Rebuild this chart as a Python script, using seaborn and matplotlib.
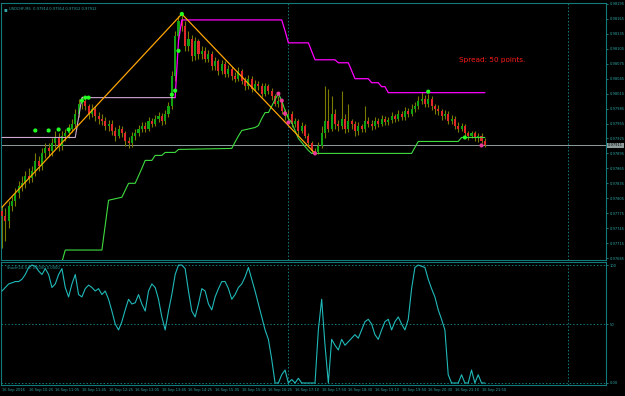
import numpy as np
import pandas as pd
import matplotlib
matplotlib.use("Agg")
import matplotlib.pyplot as plt
import matplotlib.transforms as mtransforms
import seaborn as sns

# ---------------- data (prices in points above 0.97000) ----------------
BASE = 0.97
opens = [780, 770, 760, 790, 800, 815, 830, 835, 850, 845,
         860, 880, 870, 895, 905, 900, 915, 925, 910, 930,
         935, 945, 955, 975, 995, 1000, 990, 975, 985, 970,
         965, 960, 950, 955, 940, 930, 945, 935, 920, 915,
         930, 935, 945, 950, 945, 960, 955, 965, 970, 960,
         975, 990, 1050, 1130,
         1160, 1150, 1110, 1125, 1090, 1120,
         1095, 1100, 1085, 1095, 1070, 1080, 1060, 1075, 1055, 1065,
         1050, 1045, 1060, 1040, 1030, 1045, 1025, 1035, 1030, 1015,
         1030, 1020, 1010, 995, 1000, 980, 970, 975, 955, 960,
         940, 950, 930, 915, 900, 898, 910,
         935, 960, 945, 975, 955, 950, 965, 945, 960, 955, 940, 950, 945,
         960, 955, 950, 960, 955, 965, 958, 962, 970, 965, 975, 968, 980, 975, 985,
         990, 1000, 1005, 995, 1005, 990,
         985, 980, 970, 975, 960, 965, 950, 945, 950, 935, 930, 935, 925, 930, 920]
closes = [770, 760, 790, 800, 815, 830, 835, 850, 845, 860,
          880, 870, 895, 905, 900, 915, 925, 910, 930, 935,
          945, 955, 975, 995, 1000, 990, 975, 985, 970, 965,
          960, 950, 955, 940, 930, 945, 935, 920, 915, 930,
          935, 945, 950, 945, 960, 955, 965, 970, 960, 975,
          990, 1050, 1130, 1160,
          1150, 1110, 1125, 1090, 1120, 1095,
          1100, 1085, 1095, 1070, 1080, 1060, 1075, 1055, 1065, 1050,
          1045, 1060, 1040, 1030, 1045, 1025, 1035, 1030, 1015, 1030,
          1020, 1010, 995, 1000, 980, 970, 975, 955, 960, 940,
          950, 930, 915, 900, 898, 910, 935,
          960, 945, 975, 955, 950, 965, 945, 960, 955, 940, 950, 945, 960,
          955, 950, 960, 955, 965, 958, 962, 970, 965, 975, 968, 980, 975, 985, 990,
          1000, 1005, 995, 1005, 990, 985,
          980, 970, 975, 960, 965, 950, 945, 950, 935, 930, 935, 925, 930, 920, 911]
highs = [790, 785, 800, 810, 825, 840, 850, 860, 865, 870,
         895, 890, 905, 915, 915, 925, 940, 935, 940, 945,
         955, 965, 985, 1005, 1010, 1008, 995, 995, 990, 978,
         975, 968, 962, 962, 948, 952, 950, 940, 928, 938,
         945, 952, 958, 958, 968, 966, 972, 978, 976, 982,
         998, 1060, 1140, 1170,
         1178, 1160, 1140, 1132, 1128, 1125,
         1110, 1108, 1102, 1100, 1088, 1085, 1082, 1080, 1072, 1070,
         1058, 1068, 1065, 1048, 1052, 1050, 1042, 1040, 1036, 1036,
         1035, 1026, 1015, 1010, 1005, 985, 982, 980, 966, 965,
         958, 955, 935, 920, 906, 918, 950,
         1030, 1025, 1010, 985, 962, 1020, 975, 995, 965, 960, 958, 955, 990,
         968, 962, 968, 966, 972, 970, 968, 978, 975, 982, 980, 988, 986, 995, 998,
         1010, 1018, 1012, 1015, 1010, 995,
         992, 985, 982, 980, 972, 970, 958, 956, 955, 940, 940, 940, 935, 935, 925]
lows = [705, 720, 745, 780, 790, 805, 820, 825, 835, 838,
        850, 860, 862, 885, 890, 890, 905, 900, 902, 920,
        925, 938, 948, 968, 985, 982, 965, 968, 960, 955,
        952, 942, 940, 932, 920, 925, 928, 910, 905, 908,
        922, 930, 938, 938, 940, 948, 950, 958, 952, 955,
        968, 985, 1040, 1120,
        1140, 1100, 1100, 1080, 1082, 1085,
        1085, 1078, 1078, 1062, 1062, 1052, 1055, 1048, 1048, 1042,
        1038, 1040, 1035, 1022, 1025, 1018, 1020, 1022, 1008, 1010,
        1015, 1002, 990, 988, 975, 962, 962, 948, 948, 932,
        935, 925, 910, 896, 893, 894, 905,
        925, 938, 940, 945, 940, 945, 935, 938, 945, 930, 932, 938, 938,
        948, 942, 945, 948, 950, 952, 952, 956, 958, 960, 962, 962, 968, 970, 978,
        985, 995, 988, 988, 982, 975,
        972, 962, 965, 955, 955, 945, 938, 940, 930, 922, 925, 920, 918, 915, 908]

# channel lines (bar index, points)
upper_bars = [0, 22, 24, 52, 53, 54, 84, 85, 86, 92, 94, 100, 101, 104, 106, 110, 111, 113, 114, 115, 116, 145]
upper_vals = [927, 927, 1007, 1007, 1121, 1163, 1163, 1141, 1117, 1117, 1083, 1083, 1077, 1077,
              1045, 1045, 1037, 1037, 1029, 1029, 1017, 1017]
lower_bars = [18, 19, 30, 31, 32, 36, 38, 40, 42, 43, 45, 46, 48, 49, 52, 53, 69, 70, 71, 72,
              76, 77, 78, 79, 80, 81, 82, 83, 84, 85, 86, 87, 88, 89, 90, 91, 92, 93, 123, 124,
              125, 137, 138, 145]
lower_vals = [677, 701, 701, 751, 801, 807, 835, 835, 865, 881, 881, 891, 891, 897, 897, 903, 905, 918, 930, 941,
              947, 951, 965, 977, 977, 990, 1003, 1015, 1001, 981, 965, 957, 941, 925, 917, 909, 901, 895, 895, 907,
              919, 919, 927, 927]
zigzag_bars = [0, 54, 94]
zigzag_vals = [787, 1175, 895]
up_dot_bars = [10, 14, 17, 20, 24, 25, 26, 51, 52, 53, 54, 128, 139]
up_dot_vals = [941, 941, 943, 943, 1001, 1007, 1007, 1013, 1021, 1101, 1175, 1019, 927]
dn_dot_bars = [83, 84, 85, 86, 94, 144]
dn_dot_vals = [1015, 1001, 975, 957, 895, 911]

stoch = [78, 81, 84, 85, 86, 86, 88, 92, 98, 100,
         99, 95, 92, 97, 92, 81, 84, 92, 97, 81,
         73, 84, 92, 75, 73, 80, 83, 81, 78, 80,
         75, 78, 71, 61, 50, 45, 52, 62, 71, 67,
         68, 75, 67, 61, 78, 84, 81, 71, 56, 45,
         61, 75, 92, 100, 100, 97, 78, 61, 56, 67,
         80, 78, 67, 62, 73, 80, 86, 86, 80, 71,
         75, 81, 84, 90, 98, 88, 78, 67, 56, 45,
         37, 20, 0, 0, 7, 11, 0, 3, 0, 4,
         0, 0, 0, 0, 0, 45, 71, 32, 0, 37,
         32, 28, 37, 32, 35, 38, 41, 38, 45, 52,
         54, 50, 41, 37, 45, 52, 54, 45, 52, 56,
         50, 45, 54, 80, 98, 100, 99, 98, 88, 80,
         73, 62, 54, 45, 7, 0, 0, 0, 7, 0,
         0, 11, 0, 7, 0, 0]

time_labels = ["16 Sep 2016", "16 Sep 10:25", "16 Sep 11:05", "16 Sep 11:45", "16 Sep 12:25",
               "16 Sep 13:05", "16 Sep 13:45", "16 Sep 14:25", "16 Sep 15:05", "16 Sep 15:45",
               "16 Sep 16:25", "16 Sep 17:10", "16 Sep 17:50", "16 Sep 18:30", "16 Sep 19:10",
               "16 Sep 19:50", "16 Sep 20:30", "16 Sep 21:10", "16 Sep 21:50"]
price_ticks = [685, 715, 745, 775, 805, 835, 865, 895, 925, 955, 985, 1015, 1045, 1075, 1105, 1135, 1165, 1195]
current_price = 911
stoch_levels = [100, 50, 0]
stoch_level_labels = ["100", "50", "0.00"]
separator_bars = [86, 170]


def px(v):
    return BASE + np.asarray(v, dtype=float) / 1e5


# ---------------- style ----------------
sns.set_style("dark", {"axes.facecolor": "black", "figure.facecolor": "black"})
plt.rcParams["font.family"] = ["DejaVu Sans"]
TEAL = "#127a7a"
TXT = "#2fa3a3"
FS = 2.6

W, H = 625, 396
fig = plt.figure(figsize=(6.25, 3.96), dpi=100)
fig.patch.set_facecolor("black")


def px_axes(x0, y0, x1, y1):
    return fig.add_axes([x0 / W, 1 - y1 / H, (x1 - x0) / W, (y1 - y0) / H])


ax = px_axes(1, 3, 606, 260)
axi = px_axes(1, 262, 606, 385)
XMAX = 605 / 3.33 - 0.3

n = len(closes)
bars = np.arange(n)
o = px(opens)
c = px(closes)
hi = px(highs)
lo = px(lows)

# ---------------- main price panel ----------------
ax.set_facecolor("black")
ax.vlines(bars, lo, hi, color="#7a7a00", lw=0.8, zorder=2)
body_bottom = np.minimum(o, c)
body_h = np.maximum(np.abs(c - o), 0.000008)
colors = np.where(c >= o, "#10a510", "#e0282a")
ax.bar(bars, body_h, bottom=body_bottom, width=0.62, color=colors, linewidth=0, zorder=3)

# current price line
ax.axhline(px(current_price), color="#8d9d9d", lw=0.7, zorder=1)

# channel lines
ub = np.array(upper_bars)
uv = px(upper_vals)
split = upper_bars.index(52)
sns.lineplot(x=ub[:split + 1], y=uv[:split + 1], ax=ax, color="#cfa9cf", lw=0.8,
             sort=False, estimator=None, zorder=4)
sns.lineplot(x=ub[split:], y=uv[split:], ax=ax, color="#ff00ff", lw=0.9,
             sort=False, estimator=None, zorder=4)
sns.lineplot(x=lower_bars, y=px(lower_vals), ax=ax, color="#3fdc3f", lw=0.8,
             sort=False, estimator=None, zorder=4)
sns.lineplot(x=zigzag_bars, y=px(zigzag_vals), ax=ax, color="#ffa500", lw=0.9,
             sort=False, estimator=None, zorder=5)
sns.scatterplot(x=up_dot_bars, y=px(up_dot_vals), ax=ax, color="#22ff22", s=9,
                edgecolor="none", zorder=6)
sns.scatterplot(x=dn_dot_bars, y=px(dn_dot_vals), ax=ax, color="#e83898", s=9,
                edgecolor="none", zorder=6)

for sb in separator_bars:
    ax.axvline(sb, color=TEAL, lw=0.7, ls=(0, (1.5, 2)), zorder=1)

ax.set_xlim(-0.3, XMAX)
ax.set_ylim(px(681), px(1197))
ax.yaxis.tick_right()
ax.set_yticks(px(price_ticks))
ax.set_yticklabels([f"{v:.5f}" for v in px(price_ticks)])
ax.set_xticks([])
ax.tick_params(axis="y", colors=TXT, labelsize=FS, length=1.5, width=0.5, pad=1.0, direction="out")
for t in ax.get_yticklabels():
    t.set_color(TXT)
ax.set_xlabel("")
ax.set_ylabel("")
ax.grid(False)
for s in ax.spines.values():
    s.set_color(TEAL)
    s.set_linewidth(0.8)

trans = mtransforms.blended_transform_factory(ax.transAxes, ax.transData)
ax.text(1.0035, px(current_price), f"{px(current_price):.5f}", transform=trans, fontsize=FS,
        color="black", va="center", ha="left",
        bbox=dict(boxstyle="square,pad=0.2", facecolor="#8d9d9d", edgecolor="none"), zorder=10)

ax.text(0.004, 0.985, "\u25aa", transform=ax.transAxes, fontsize=4, color=TXT, va="top", ha="left")
ax.text(0.014, 0.986, "USDCHF,M5  0.97914 0.97914 0.97912 0.97912", transform=ax.transAxes,
        fontsize=FS, color=TXT, va="top", ha="left")
ax.text(0.757, 0.78, "Spread: 50 points.", transform=ax.transAxes, fontsize=5.2,
        color="#ff1a1a", va="center", ha="left")

# ---------------- indicator panel ----------------
axi.set_facecolor("black")
for lv in stoch_levels:
    axi.axhline(lv, color=TEAL, lw=0.7, ls=(0, (1.5, 2)), zorder=1)
for sb in separator_bars:
    axi.axvline(sb, color=TEAL, lw=0.7, ls=(0, (1.5, 2)), zorder=1)
sns.lineplot(x=bars, y=stoch, ax=axi, color="#20b8b8", lw=0.8, sort=False, estimator=None, zorder=3)
axi.set_xlim(-0.3, XMAX)
axi.set_ylim(-1.7, 102.6)
axi.yaxis.tick_right()
axi.set_yticks(stoch_levels)
axi.set_yticklabels(stoch_level_labels)
tick_bars = list(range(0, 8 * len(time_labels), 8))
axi.set_xticks(tick_bars)
axi.set_xticklabels(time_labels, ha="left")
axi.tick_params(axis="both", colors=TXT, labelsize=FS, length=1.5, width=0.5, pad=1.0, direction="out")
for t in axi.get_yticklabels() + axi.get_xticklabels():
    t.set_color(TXT)
axi.set_xlabel("")
axi.set_ylabel("")
axi.grid(False)
for s in axi.spines.values():
    s.set_color(TEAL)
    s.set_linewidth(0.8)
axi.text(0.01, 0.97, "Stoch(10,3,3) 0.0000 0.0000", transform=axi.transAxes, fontsize=FS,
         color=TXT, va="top", ha="left")

fig.savefig("out.png", dpi=100, facecolor="black")
